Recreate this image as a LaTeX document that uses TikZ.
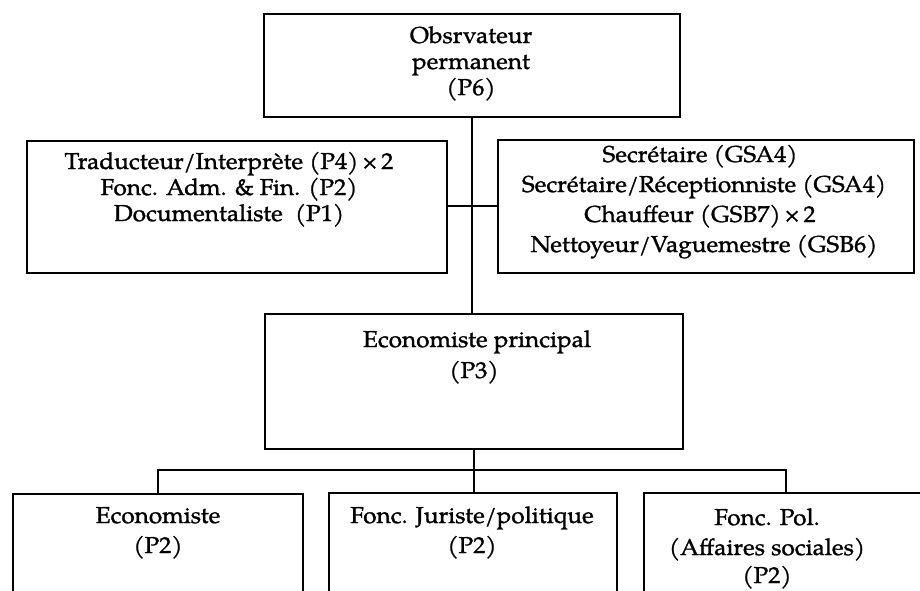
\documentclass[tikz,border=0pt]{standalone}
\usepackage{fontspec}
\setmainfont{texgyrepagella}[Extension=.otf, UprightFont=*-regular, BoldFont=*-bold, FakeBold=1.2, FakeStretch=1.06]
\begin{document}
\begin{tikzpicture}[x=1pt,y=-1pt,
  box/.style={draw, line width=1.8pt, inner sep=0pt, anchor=north west},
  ln/.style={anchor=base, inner sep=0pt, font=\fontsize{23}{30}\selectfont},
  conn/.style={line width=1.8pt}]
\useasboundingbox (0,0) rectangle (920,591);
\clip (0,0) rectangle (920,591);
% boxes
\node[box, minimum width=416pt, minimum height=103pt] (top) at (263,13) {};
\node[box, minimum width=420pt, minimum height=132pt] (left) at (26,140) {};
\node[box, minimum width=416pt, minimum height=133pt] (right) at (497,139) {};
\node[box, minimum width=418pt, minimum height=135pt] (mid) at (264,313) {};
\node[box, minimum width=290pt, minimum height=140pt] (b1) at (12,493) {};
\node[box, minimum width=288pt, minimum height=140pt] (b2) at (328,492) {};
\node[box, minimum width=300pt, minimum height=140pt] (b3) at (643,492) {};
% texts
\node[ln] (t1) at (471,43) {Obsrvateur};
\node[ln] (t2) at (471,69) {permanent};
\node[ln] (t3) at (471,95) {(P6)};
\node[ln] (l1) at (229,169) {Traducteur/Interprète (P4)\,×\,2};
\node[ln] (l2) at (229,195) {Fonc. Adm. \& Fin. (P2)};
\node[ln] (l3) at (229,221) {Documentaliste\ \ (P1)};
\node[ln] (r1) at (700,162) {Secrétaire (GSA4)};
\node[ln] (r2) at (704,192) {Secrétaire/Réceptionniste (GSA4)};
\node[ln] (r3) at (700,222) {Chauffeur (GSB7)\,×\,2};
\node[ln] (r4) at (704,252) {Nettoyeur/Vaguemestre (GSB6)};
\node[ln] (m1) at (477,347) {Economiste principal};
\node[ln] (m2) at (474,378) {(P3)};
\node[ln] (a1) at (158,523) {Economiste};
\node[ln] (a2) at (158,553) {(P2)};
\node[ln] (c1) at (472,523) {Fonc. Juriste/politique};
\node[ln] (c2) at (472,553) {(P2)};
\node[ln] (d1) at (767,525) {Fonc. Pol.};
\node[ln] (d2) at (767,555) {(Affaires sociales)};
\node[ln] (d3) at (767,583) {(P2)};
% connectors
\coordinate (hc) at (471,206);
\coordinate (busL) at (158,470);
\coordinate (busR) at (786,470);
\draw[conn] (top.south) -- (top.south |- mid.north);
\draw[conn] (left.east |- hc) -- (right.west |- hc);
\draw[conn] (mid.south) -- (mid.south |- b2.north);
\draw[conn] (b1.north -| busL) -- (busL) -- (busR) -- (b3.north -| busR);
\end{tikzpicture}
\end{document}
